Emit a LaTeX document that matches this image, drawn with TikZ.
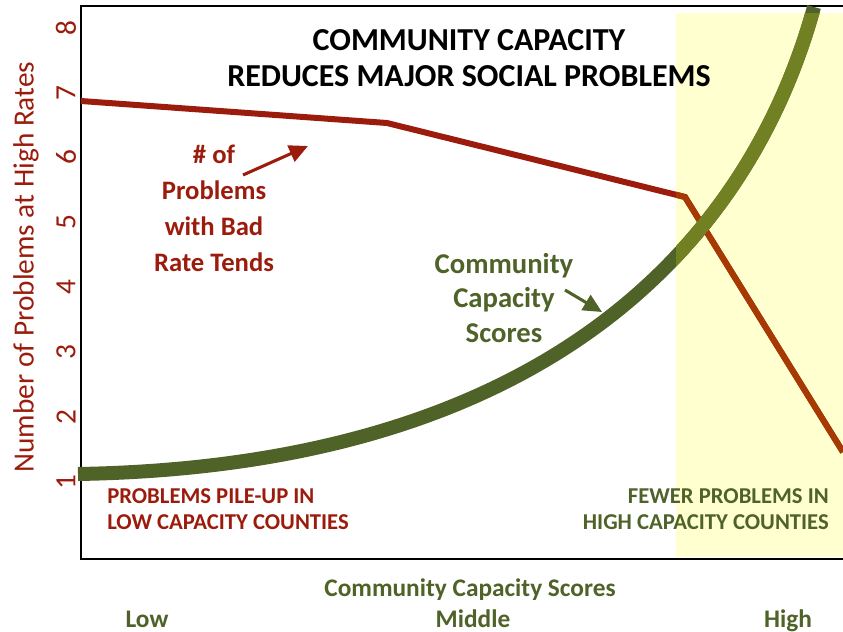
\documentclass[tikz,border=0pt]{standalone}
\usepackage{fontspec}
\setmainfont{Carlito}
\usetikzlibrary{arrows.meta}

\definecolor{probred}{RGB}{155,28,12}
\definecolor{proborange}{RGB}{166,58,2}
\definecolor{capgreen}{RGB}{79,98,40}
\definecolor{capolive}{RGB}{112,128,35}
\definecolor{zoneyellow}{RGB}{255,255,208}

%problem trend line
\newcommand{\probtrend}[1]{\draw[probline, #1] (81,101) -- (387,123) -- (685,197) -- (843,452);}
%capacity score curve
\newcommand{\capcurve}[1]{\draw[capline, #1] (78,474) .. controls (550,466) and (750,240) .. (814,7);}

\begin{document}
\begin{tikzpicture}[x=0.75pt,y=-0.75pt]

  \tikzset{
    probline/.style={line width=4.5pt, probred},
    capline/.style={line width=10.5pt, capgreen},
    ticklabel/.style={text=probred, rotate=90, inner sep=0pt, font=\fontsize{22}{26}\selectfont},
    problabel/.style={text=probred, align=center, inner sep=0pt, font=\bfseries\fontsize{20}{27}\selectfont},
    caplabel/.style={text=capgreen, align=center, inner sep=0pt, font=\bfseries\fontsize{21.5}{26}\selectfont},
    zonelabel/.style={inner sep=0pt, font=\bfseries\fontsize{17}{19.5}\selectfont},
    axislabel/.style={text=capgreen, anchor=base, inner sep=0pt, font=\bfseries\fontsize{19}{23}\selectfont},
    pointer/.style={line width=2.3pt, -{Triangle[length=14pt, width=13pt]}},
  }

  \useasboundingbox (0,0) rectangle (843,632);

  %high capacity zone
  \fill[zoneyellow] (676,13) rectangle (843,557);

  %frame
  \draw[line width=2pt] (843,6) -- (81,6) -- (81,559) -- (843,559);

  %y axis
  \foreach \k in {1,...,8}
    \node[ticklabel] (tick\k) at (66,{482-(\k-1)*64.9}) {\k};
  \node[ticklabel] (ytitle) at (26,267) {Number of Problems at High Rates};

  %data lines
  \probtrend{}
  \capcurve{}
  %same lines inside the yellow zone
  \begin{scope}
    \clip (676,13) rectangle (843,557);
    \probtrend{proborange}
    \capcurve{capolive}
  \end{scope}

  %title
  \node[align=center, inner sep=0pt, font=\bfseries\fontsize{24}{27}\selectfont] (title) at (469,58)
    {COMMUNITY CAPACITY\\REDUCES MAJOR SOCIAL PROBLEMS};

  %line labels
  \node[problabel] (probtxt) at (214,208) {\# of\\Problems\\with Bad\\Rate Tends};
  \coordinate (probtail) at (243,175);
  \coordinate (probtip) at (308,146);
  \draw[pointer, probred] (probtail) -- (probtip);

  \node[caplabel] (captxt) at (504,298) {Community\\Capacity\\Scores};
  \coordinate (captail) at (565,290);
  \coordinate (captip) at (602,312);
  \draw[pointer, capgreen] (captail) -- (captip);

  %zone labels
  \node[zonelabel, text=probred, anchor=west, align=left] (lowzone) at (107,509)
    {PROBLEMS PILE-UP IN\\LOW CAPACITY COUNTIES};
  \node[zonelabel, text=capgreen, anchor=east, align=right] (highzone) at (829,509)
    {FEWER PROBLEMS IN\\HIGH CAPACITY COUNTIES};

  %x axis
  \node[axislabel] (xtitle) at (470,596) {Community Capacity Scores};
  \node[axislabel] (xlow) at (147,627) {Low};
  \node[axislabel] (xmid) at (473,627) {Middle};
  \node[axislabel] (xhigh) at (788,627) {High};

\end{tikzpicture}
\end{document}
